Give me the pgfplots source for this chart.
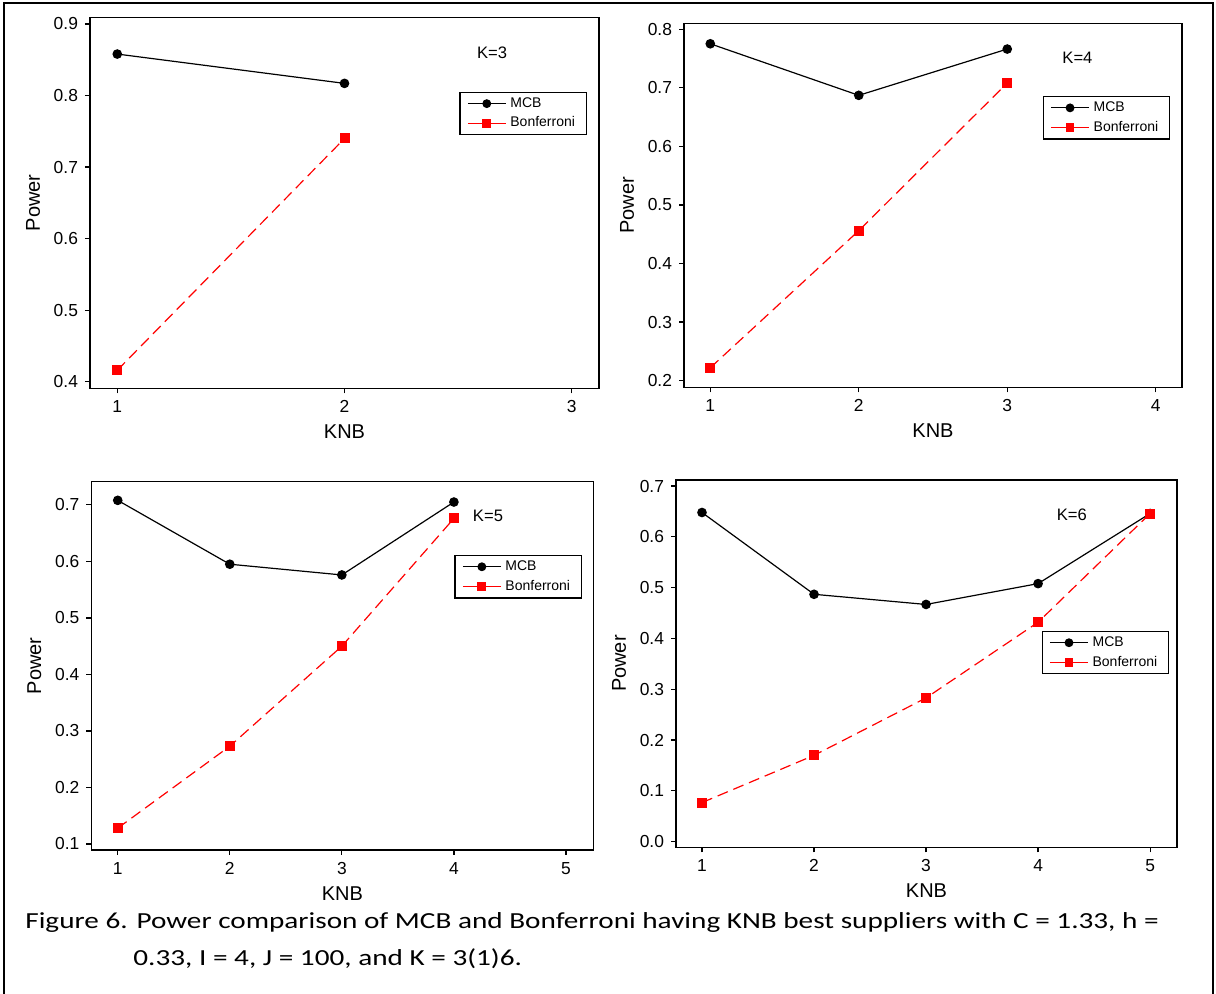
\documentclass[border=0pt]{standalone}
\usepackage{pgfplots}
\pgfplotsset{compat=1.18}
\usepackage{fontspec}
\setmainfont{Liberation Sans}
\newfontfamily\capfont[FakeStretch=1.27]{Carlito}

\pgfplotsset{
  panel/.style={
    scale only axis,
    axis line style={line width=0.6pt, black},
    tick align=outside,
    xtick pos=left, ytick pos=left,
    major tick length=2.5pt,
    tick style={line width=0.6pt, black},
    tick label style={font=\fontsize{8.7}{10}\selectfont},
    label style={font=\fontsize{8.3}{10}\selectfont},
    /pgf/number format/assume math mode=true,
    yticklabel style={/pgf/number format/fixed, /pgf/number format/fixed zerofill, /pgf/number format/precision=1},
    xlabel={KNB}, ylabel={Power},
    every axis x label/.style={at={([yshift=-21.75pt]axis description cs:0.5,0)}, anchor=center},
    every axis y label/.style={at={([xshift=-28.5pt]axis description cs:0,0.5)}, anchor=center, rotate=90},
    legend cell align=left,
    legend image code/.code={\draw[mark repeat=2, mark phase=2, #1, solid, mark size=1.9pt] plot coordinates {(0pt,0pt) (9.5pt,0pt) (19pt,0pt)};},
    legend style={anchor=north east, draw=black, line width=0.6pt, font=\fontsize{7}{8}\selectfont,
      inner xsep=3.6pt, inner ysep=0.7pt, row sep=0pt,
      nodes={inner xsep=2pt, inner ysep=1.7pt, text depth=0.15em}},
  },
  mcb/.style={black, line width=0.6pt, mark=*, mark size=2.1pt, mark options={solid, fill=black}},
  bon/.style={red, line width=0.6pt, dash pattern=on 5.5pt off 3pt, mark=square*, mark size=2.2pt, mark options={solid, fill=red}},
}
\newcommand\mylegend{\legend{MCB,Bonferroni}}

\begin{document}
\begin{tikzpicture}
\useasboundingbox (0pt,0pt) rectangle (608pt,497pt);
\draw[line width=0.75pt] (2pt,-1pt) -- (2pt,495.5pt) -- (606.5pt,495.5pt) -- (606.5pt,-1pt);

% K = 3
\begin{axis}[panel, at={(45pt,302.85pt)}, anchor=south west, width=254.5pt, height=185.5pt,
  xmin=0.88, xmax=3.12, ymin=0.3908, ymax=0.9094,
  xtick={1,2,3}, ytick={0.4,0.5,0.6,0.7,0.8,0.9},
  legend style={at={(0.976,0.799)}}]
\addplot[mcb] coordinates {(1,0.858) (2,0.817)};
\addplot[bon] coordinates {(1,0.416) (2,0.740)};
\mylegend
\node[font=\fontsize{8.3}{10}\selectfont] at (axis description cs:0.79,0.905) {K=3};
\end{axis}

% K = 4
\begin{axis}[panel, at={(342pt,303.35pt)}, anchor=south west, width=249pt, height=182pt,
  xmin=0.823, xmax=4.177, ymin=0.1887, ymax=0.810,
  xtick={1,2,3,4}, ytick={0.2,0.3,0.4,0.5,0.6,0.7,0.8},
  legend style={at={(0.976,0.800)}}]
\addplot[mcb] coordinates {(1,0.775) (2,0.687) (3,0.766)};
\addplot[bon] coordinates {(1,0.222) (2,0.456) (3,0.708)};
\mylegend
\node[font=\fontsize{8.3}{10}\selectfont] at (axis description cs:0.79,0.906) {K=4};
\end{axis}

% K = 5
\begin{axis}[panel, at={(45.7pt,72pt)}, anchor=south west, width=251pt, height=184.15pt,
  xmin=0.765, xmax=5.245, ymin=0.0894, ymax=0.741,
  xtick={1,2,3,4,5}, ytick={0.1,0.2,0.3,0.4,0.5,0.6,0.7},
  legend style={at={(0.977,0.801)}}]
\addplot[mcb] coordinates {(1,0.708) (2,0.595) (3,0.576) (4,0.705)};
\addplot[bon] coordinates {(1,0.128) (2,0.273) (3,0.450) (4,0.676)};
\mylegend
\node[font=\fontsize{8.3}{10}\selectfont] at (axis description cs:0.79,0.906) {K=5};
\end{axis}

% K = 6
\begin{axis}[panel, at={(338pt,73.35pt)}, anchor=south west, width=250.5pt, height=183.65pt,
  xmin=0.768, xmax=5.24, ymin=-0.011, ymax=0.712,
  xtick={1,2,3,4,5}, ytick={0,0.1,0.2,0.3,0.4,0.5,0.6,0.7},
  legend style={at={(0.984,0.589)}}]
\addplot[mcb] coordinates {(1,0.648) (2,0.487) (3,0.467) (4,0.508) (5,0.646)};
\addplot[bon] coordinates {(1,0.077) (2,0.170) (3,0.283) (4,0.432) (5,0.646)};
\mylegend
\node[font=\fontsize{8.3}{10}\selectfont] at (axis description cs:0.79,0.905) {K=6};
\end{axis}

\node[anchor=base west, inner sep=0pt, font=\capfont\fontsize{11.5}{13}\selectfont] at (12.5pt,32.5pt)
  {Figure 6. Power comparison of MCB and Bonferroni having KNB best suppliers with C = 1.33, h =};
\node[anchor=base west, inner sep=0pt, font=\capfont\fontsize{11.5}{13}\selectfont] at (66.5pt,14.15pt)
  {0.33, I = 4, J = 100, and K = 3(1)6.};
\end{tikzpicture}
\end{document}
